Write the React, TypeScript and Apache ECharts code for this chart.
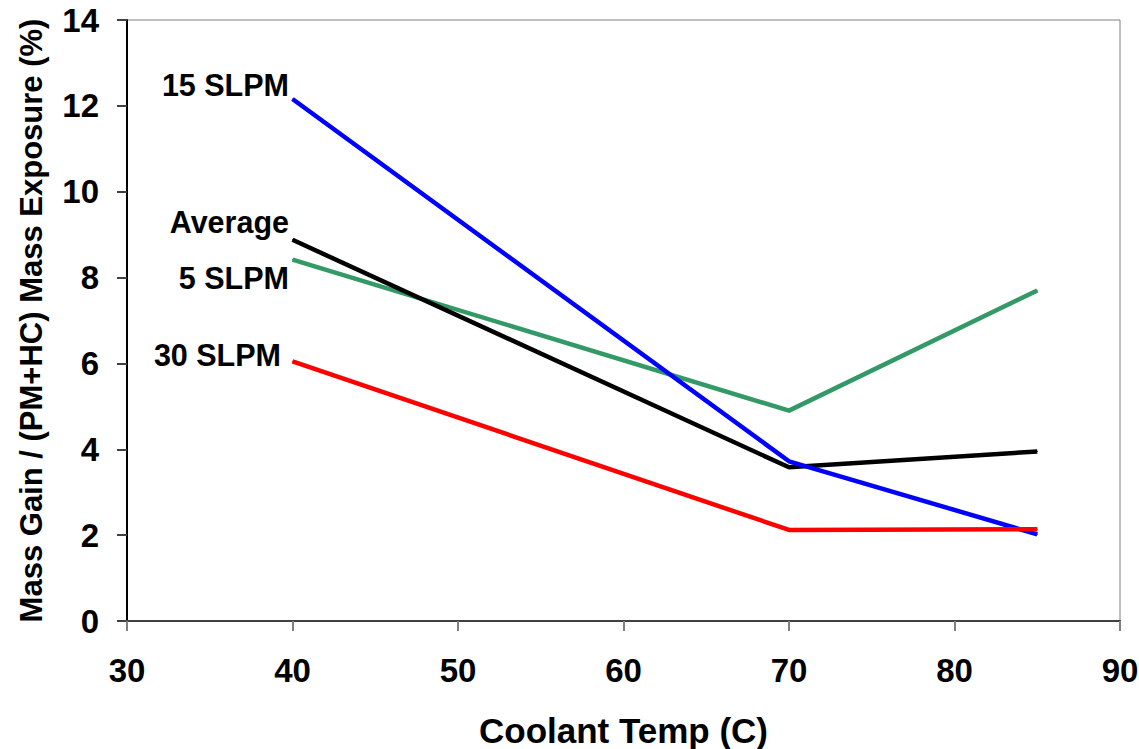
import React, { useEffect, useRef } from "react";
import * as echarts from "echarts";

const xTicks = [30, 40, 50, 60, 70, 80, 90];
const temps = [40, 70, 85];
const slpm5 = [8.42, 4.9, 7.7];
const slpm15 = [12.16, 3.72, 2.02];
const average = [8.88, 3.58, 3.95];
const slpm30 = [6.05, 2.12, 2.14];
const seriesNames = ["5 SLPM", "Average", "15 SLPM", "30 SLPM"];

const FONT = "'Liberation Sans', Arial, sans-serif";

function makeSeries(name: string, values: number[], color: string, offset: [number, number], z: number) {
  return {
    name,
    type: "line",
    z,
    symbol: "circle",
    symbolSize: 1,
    showSymbol: true,
    lineStyle: { color, width: 4.5 },
    itemStyle: { color },
    label: { show: false },
    data: temps.map((t, i) =>
      i === 0
        ? {
            value: [t, values[i]],
            label: {
              show: true,
              position: "left",
              distance: 3,
              offset,
              formatter: name,
              color: "#000",
              fontFamily: FONT,
              fontWeight: "bold",
              fontSize: 30.5,
            },
          }
        : [t, values[i]]
    ),
  };
}

export default function App() {
  const ref = useRef<HTMLDivElement>(null);
  useEffect(() => {
    const chart = echarts.init(ref.current!, null, { renderer: "svg" });
    chart.setOption({
      animation: false,
      backgroundColor: "#fff",
      grid: {
        left: 127,
        top: 20,
        right: 19,
        bottom: 128,
        show: true,
        borderColor: "#808080",
        borderWidth: 1,
        outerBoundsMode: "none",
        containLabel: false,
      },
      xAxis: {
        type: "value",
        min: 30,
        max: 90,
        interval: 10,
        name: "Coolant Temp (C)",
        nameLocation: "middle",
        nameGap: 92,
        nameTextStyle: { fontFamily: FONT, fontWeight: "bold", fontSize: 35, color: "#000" },
        axisLine: { show: true, lineStyle: { color: "#404040", width: 2 } },
        axisTick: { show: true, length: 10, lineStyle: { color: "#808080", width: 2 } },
        axisLabel: {
          margin: 33,
          fontFamily: FONT,
          fontWeight: "bold",
          fontSize: 33,
          color: "#000",
          formatter: (v: number) => (xTicks.includes(v) ? String(v) : ""),
        },
        splitLine: { show: false },
      },
      yAxis: {
        type: "value",
        min: 0,
        max: 14,
        interval: 2,
        name: "Mass Gain / (PM+HC) Mass Exposure (%)",
        nameLocation: "middle",
        nameGap: 80,
        nameTextStyle: { fontFamily: FONT, fontWeight: "bold", fontSize: 31, color: "#000" },
        axisLine: { show: true, lineStyle: { color: "#000", width: 2 } },
        axisTick: { show: true, length: 10, lineStyle: { color: "#404040", width: 2 } },
        axisLabel: {
          margin: 28,
          fontFamily: FONT,
          fontWeight: "bold",
          fontSize: 33,
          color: "#000",
        },
        splitLine: { show: false },
      },
      series: [
        makeSeries(seriesNames[0], slpm5, "#339966", [0, 18], 2),
        makeSeries(seriesNames[1], average, "#000000", [0, -18], 3),
        makeSeries(seriesNames[2], slpm15, "#0000FF", [0, -14], 4),
        makeSeries(seriesNames[3], slpm30, "#FF0000", [-8, -6], 5),
      ],
    });
    return () => chart.dispose();
  }, []);
  return <div ref={ref} style={{ width: 1139, height: 749, position: "absolute", left: 0, top: 0 }} />;
}
